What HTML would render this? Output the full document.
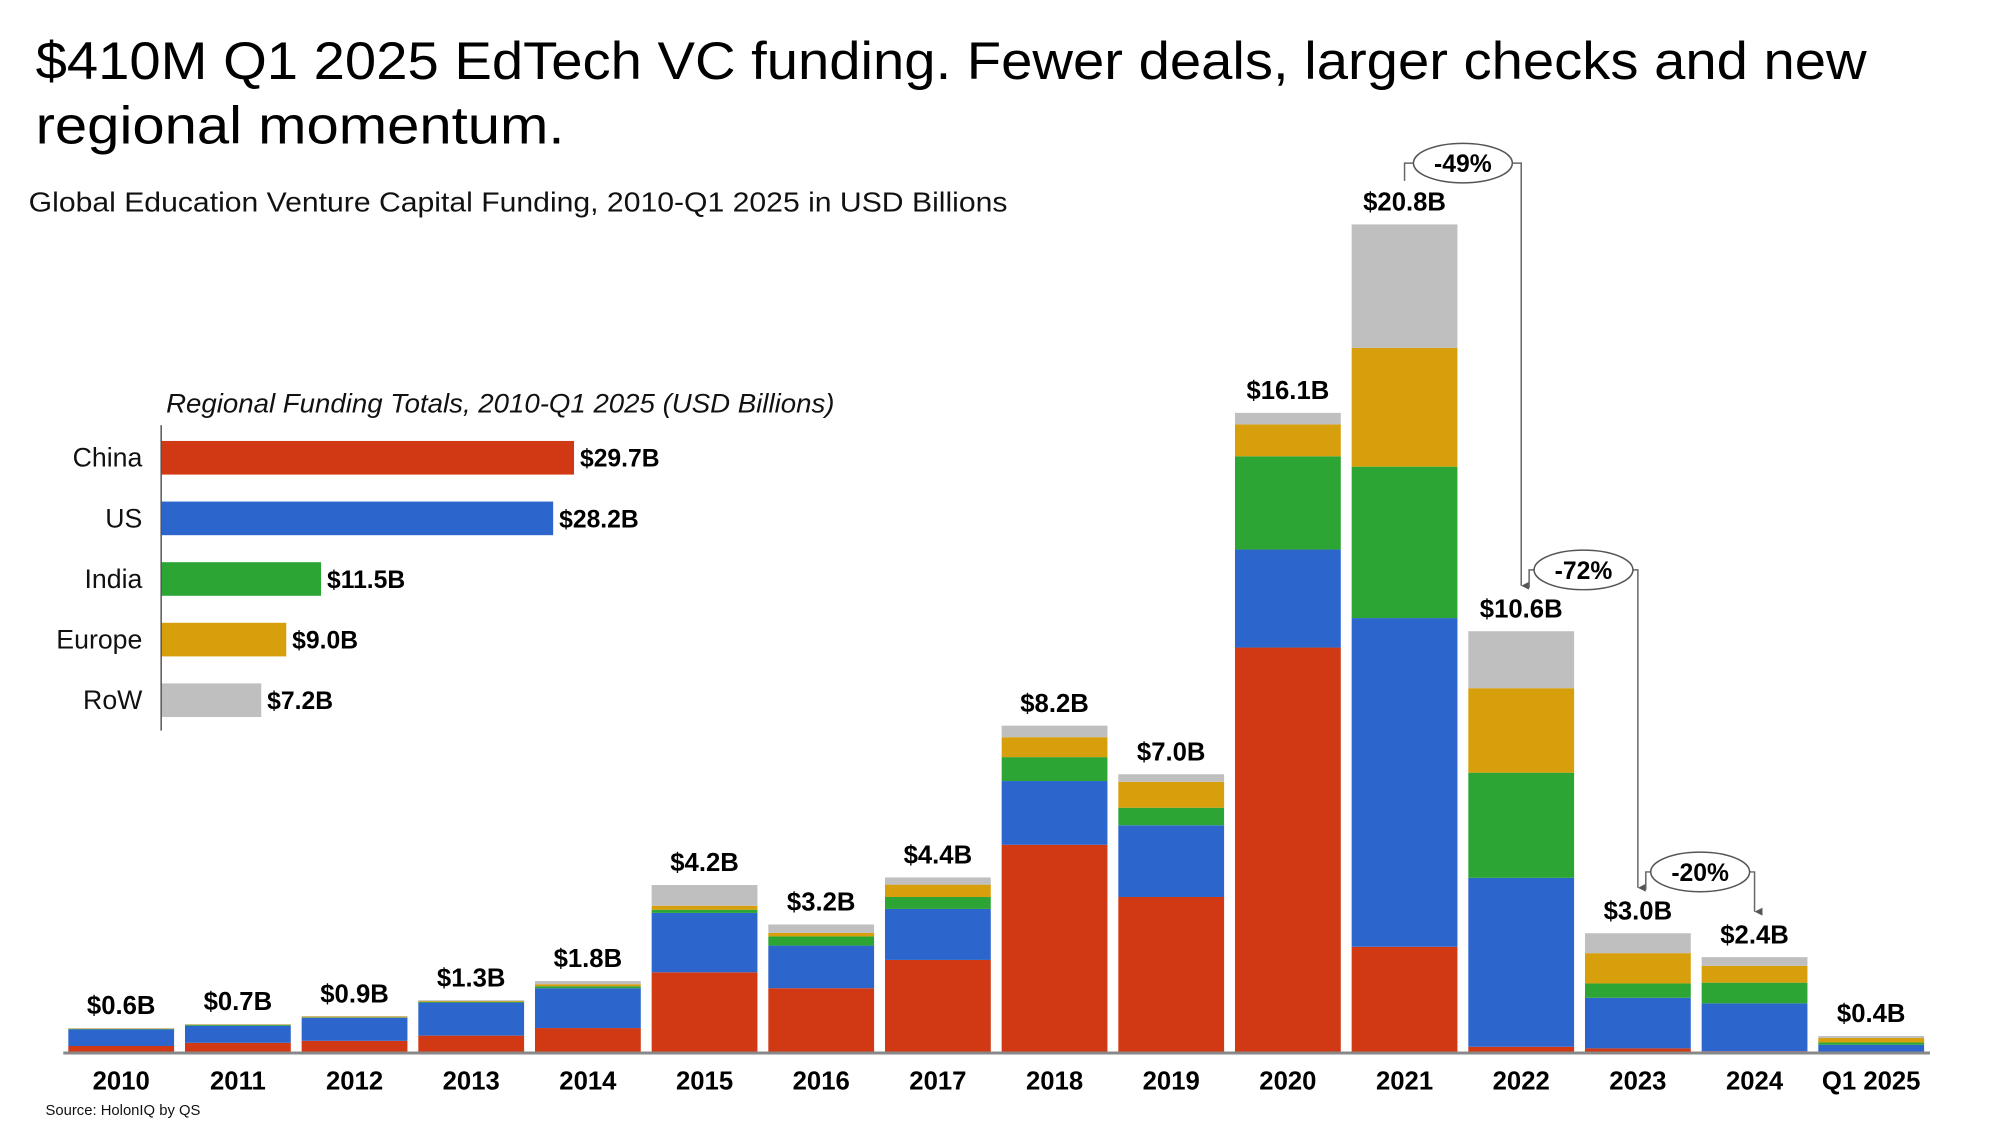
<!DOCTYPE html>
<html><head><meta charset="utf-8"><style>
html,body{margin:0;padding:0;background:#fff;}
svg{display:block;font-family:"Liberation Sans",sans-serif;}
</style></head><body>
<svg id="chart" width="2000" height="1126" viewBox="0 0 2000 1126" xmlns="http://www.w3.org/2000/svg">
<g transform="scale(0.9887)">
<text x="36" y="80" font-size="53" fill="#000" textLength="1852" lengthAdjust="spacingAndGlyphs">$410M Q1 2025 EdTech VC funding. Fewer deals, larger checks and new</text>
<text x="36" y="145" font-size="53" fill="#000" textLength="535" lengthAdjust="spacingAndGlyphs">regional momentum.</text>
<text x="29" y="214" font-size="28" fill="#111" textLength="990" lengthAdjust="spacingAndGlyphs">Global Education Venture Capital Funding, 2010-Q1 2025 in USD Billions</text>
<text x="168" y="417" font-size="27" font-style="italic" fill="#111" textLength="676" lengthAdjust="spacingAndGlyphs">Regional Funding Totals, 2010-Q1 2025 (USD Billions)</text>
<g id="inset"></g>
<g id="main"></g>
<g id="annot"></g>
<text x="46" y="1128" font-size="15" fill="#111">Source: HolonIQ by QS</text>
</g>
</svg>
<script>
const regions = ["China","US","India","Europe","RoW"];
const regionTotals = [29.7,28.2,11.5,9.0,7.2];
const regionLabels = ["$29.7B","$28.2B","$11.5B","$9.0B","$7.2B"];
const colors = ["#D13915","#2C66CC","#2CA535","#D89F0C","#BFBFBF"];

const years = ["2010","2011","2012","2013","2014","2015","2016","2017","2018","2019","2020","2021","2022","2023","2024","Q1 2025"];
const china  = [0.15,0.23,0.28,0.41,0.60,2.00,1.60,2.31,5.20,3.89,10.15,2.64,0.13,0.09,0.02,0.01];
const us     = [0.42,0.43,0.58,0.83,1.00,1.49,1.07,1.28,1.60,1.80,2.46,8.25,4.24,1.27,1.20,0.17];
const india  = [0.01,0.02,0.01,0.02,0.05,0.08,0.23,0.30,0.60,0.44,2.34,3.80,2.64,0.36,0.52,0.06];
const europe = [0.01,0.01,0.02,0.02,0.05,0.10,0.09,0.31,0.50,0.65,0.80,2.98,2.12,0.76,0.42,0.11];
const row    = [0.01,0.01,0.01,0.02,0.08,0.52,0.21,0.18,0.29,0.19,0.29,3.10,1.43,0.50,0.22,0.05];
const totalLabels = ["$0.6B","$0.7B","$0.9B","$1.3B","$1.8B","$4.2B","$3.2B","$4.4B","$8.2B","$7.0B","$16.1B","$20.8B","$10.6B","$3.0B","$2.4B","$0.4B"];
const changeFrom = [11,12,13];
const changeTo = [12,13,14];
const changeLabels = ["-49%","-72%","-20%"];

const NS="http://www.w3.org/2000/svg";
function mk(tag, attrs, parent){const e=document.createElementNS(NS,tag);for(const k in attrs)e.setAttribute(k,attrs[k]);parent.appendChild(e);return e;}

// inset
const inset=document.getElementById('inset');
const ix0=163, ixScale=14.06, iy0=446, iStep=61.3, ibh=34;
function ix(v){return ix0+v*ixScale;}
regions.forEach((r,i)=>{
  const y=iy0+i*iStep;
  const b=mk('rect',{x:ix0,y:y,width:ix(regionTotals[i])-ix0,height:ibh,fill:colors[i]},inset);
  
  
  const l=mk('text',{x:144,y:y+ibh/2+9,'font-size':27,'text-anchor':'end',fill:'#111'},inset);
  l.textContent=r;
  
  
  const v=mk('text',{x:ix(regionTotals[i])+6,y:y+ibh/2+9,'font-size':25,'font-weight':'bold',fill:'#000'},inset);
  v.textContent=regionLabels[i];
  
  
});
const ia=mk('line',{x1:ix0,y1:430,x2:ix0,y2:739,stroke:'#555','stroke-width':1.5},inset);



// main
const main=document.getElementById('main');
const base=1064, yScale=40.3, cx0=122.6, step=118, bw=107;
function yv(v){return base-v*yScale;}
function xc(i){return cx0+i*step;}
const series=[china,us,india,europe,row];
const tops=[];
years.forEach((yr,i)=>{
  let acc=0;
  series.forEach((s,k)=>{
    const y1=yv(acc), y2=yv(acc+s[i]);
    const r=mk('rect',{x:xc(i)-bw/2,y:y2,width:bw,height:y1-y2,fill:colors[k]},main);
    
    
    acc+=s[i];
  });
  tops.push(yv(acc));
  const t=mk('text',{x:xc(i),y:yv(acc)-14,'font-size':26,'font-weight':'bold','text-anchor':'middle',fill:'#000'},main);
  t.textContent=totalLabels[i];
  
  
  const xl=mk('text',{x:xc(i),y:1102,'font-size':26,'font-weight':'bold','text-anchor':'middle',fill:'#000'},main);
  xl.textContent=yr;
  
  
});
const ax=mk('line',{x1:64,y1:base+1,x2:1952,y2:base+1,stroke:'#888','stroke-width':3},main);



// annotations
const an=document.getElementById('annot');
mk('defs',{},an).innerHTML='<marker id="arr" markerWidth="8" markerHeight="8" refX="4" refY="8" orient="auto" markerUnits="userSpaceOnUse"><path d="M0,0 L8,0 L4,8 Z" fill="#555"/></marker>';
changeLabels.forEach((lab,j)=>{
  const a=changeFrom[j], b=changeTo[j];
  const x1=xc(a)+(j===0?0:8), x2=xc(b);
  const ey=tops[a]-62;
  const ecx=(x1+x2)/2;
  const startY=tops[a]-44;
  const endY=tops[b]-46;
  const p=mk('path',{d:`M${x1},${startY} L${x1},${ey} L${ecx-50},${ey} M${ecx+50},${ey} L${x2},${ey} L${x2},${endY}`,fill:'none',stroke:'#666','stroke-width':1.5,'marker-end':'url(#arr)'},an);
  
  
  const e=mk('ellipse',{cx:ecx,cy:ey,rx:50,ry:20,fill:'#fff',stroke:'#555','stroke-width':1.5},an);
  
  
  const t=mk('text',{x:ecx,y:ey+9,'font-size':25,'font-weight':'bold','text-anchor':'middle',fill:'#000'},an);
  t.textContent=lab;
  
  
});
</script>
</body></html>
